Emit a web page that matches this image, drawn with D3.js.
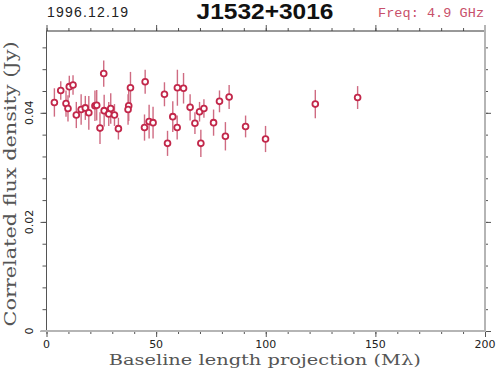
<!DOCTYPE html>
<html>
<head>
<meta charset="utf-8">
<script src="https://cdn.jsdelivr.net/npm/d3@7"></script>
<style>
  body { margin: 0; background: #fff; }
  svg { display: block; }
</style>
</head>
<body>
<div id="chart"></div>
<script>
// baseline projection (M lambda)
const baseline = [3.6, 6.5, 8.9, 9.8, 10.4, 12.1, 13.6, 15.8, 17.7, 19.3, 22.1, 22.9, 24.4, 26.1, 26.3,
  28.4, 29.3, 31.0, 32.8, 38.3, 37.5, 37.2, 45.0, 44.7, 46.8, 48.6, 53.8, 55.2, 57.6, 59.7, 59.6,
  62.5, 65.5, 67.7, 69.8, 71.8, 70.4, 76.2, 78.9, 81.6, 83.3, 90.8, 99.9, 122.6, 141.9];
// correlated flux density (Jy)
const flux = [0.0419, 0.0441, 0.0417, 0.0408, 0.0448, 0.0451, 0.0396, 0.0406, 0.0409, 0.0400, 0.0413,
  0.0414, 0.0372, 0.0472, 0.0404, 0.0398, 0.0408, 0.0396, 0.0371, 0.0446, 0.0413, 0.0406, 0.0457,
  0.0373, 0.0384, 0.0382, 0.0434, 0.0344, 0.0393, 0.0446, 0.0373, 0.0445, 0.0410, 0.0381, 0.0402,
  0.0408, 0.0344, 0.0382, 0.0421, 0.0357, 0.0429, 0.0375, 0.0352, 0.0416, 0.0428];
const fluxErr = [0.0026, 0.0017, 0.0024, 0.0024, 0.0020, 0.0018, 0.0024, 0.0028, 0.0022, 0.0031, 0.0028,
  0.0028, 0.0029, 0.0024, 0.0029, 0.0022, 0.0028, 0.0020, 0.0020, 0.0029, 0.0028, 0.0028, 0.0022,
  0.0024, 0.0031, 0.0029, 0.0022, 0.0023, 0.0028, 0.0033, 0.0022, 0.0028, 0.0024, 0.0020, 0.0018,
  0.0017, 0.0025, 0.0024, 0.0020, 0.0026, 0.0022, 0.0020, 0.0024, 0.0026, 0.0021];

const xMajor = [0, 50, 100, 150, 200];
const xMinor = d3.range(0, 201, 10);
const yMajor = [0, 0.02, 0.04];
const yMinor = d3.range(0, 0.0541, 0.004);

const dateLabel = '1996.12.19';
const sourceName = 'J1532+3016';
const freqLabel = 'Freq: 4.9 GHz';

const width = 497, height = 375;
const margin = { top: 31, right: 12, bottom: 44, left: 46.5 };
const w = width - margin.left - margin.right;
const h = height - margin.top - margin.bottom;

const svg = d3.select('#chart').append('svg')
  .attr('width', width)
  .attr('height', height);

const g = svg.append('g')
  .attr('transform', 'translate(' + margin.left + ',' + margin.top + ')');

const x = d3.scaleLinear().domain([0, 200]).range([0, w]);
const y = d3.scaleLinear().domain([0, 0.055]).range([h, 0]);

// ticks (pointing outward), minor then major
function tickAxis(axisFn, scale, vals, size, transform) {
  const a = g.append('g')
    .attr('transform', transform || null)
    .call(axisFn(scale).tickValues(vals).tickSize(size).tickFormat(''));
  a.select('.domain').remove();
  a.selectAll('line').attr('stroke', '#555');
  return a;
}
tickAxis(d3.axisBottom, x, xMinor, 3, 'translate(0,' + h + ')');
tickAxis(d3.axisBottom, x, xMajor, 6, 'translate(0,' + h + ')');
tickAxis(d3.axisTop, x, xMinor, 3);
tickAxis(d3.axisTop, x, xMajor, 6);
tickAxis(d3.axisLeft, y, yMinor, 4);
tickAxis(d3.axisLeft, y, yMajor, 6);
tickAxis(d3.axisRight, y, yMinor, 3, 'translate(' + w + ',0)');
tickAxis(d3.axisRight, y, yMajor, 6, 'translate(' + w + ',0)');

// frame
g.append('line').attr('x1', 0).attr('x2', w).attr('y1', 0).attr('y2', 0)
  .attr('stroke', '#333').attr('stroke-width', 1);
g.append('line').attr('x1', 0).attr('x2', 0).attr('y1', 0).attr('y2', h)
  .attr('stroke', '#555').attr('stroke-width', 1);
g.append('line').attr('x1', -6).attr('x2', w + 1).attr('y1', h).attr('y2', h)
  .attr('stroke', '#b5b5b5').attr('stroke-width', 2);
g.append('line').attr('x1', w).attr('x2', w).attr('y1', -6).attr('y2', h + 1)
  .attr('stroke', '#b5b5b5').attr('stroke-width', 2);

// tick labels
g.selectAll('.xlab').data(xMajor).enter().append('text')
  .attr('x', d => x(d))
  .attr('y', h + 16.5)
  .attr('text-anchor', 'middle')
  .style('font-family', 'DejaVu Sans')
  .style('font-size', '11px')
  .style('fill', '#222')
  .text(d => d);

g.selectAll('.ylab').data(yMajor).enter().append('text')
  .attr('transform', d => 'translate(-13.5,' + y(d) + ') rotate(-90)')
  .attr('text-anchor', 'middle')
  .style('font-family', 'DejaVu Sans')
  .style('font-size', '11px')
  .style('fill', '#222')
  .text(d => d === 0 ? '0' : d.toFixed(2));

// axis titles
svg.append('text')
  .attr('x', margin.left + x(100) - 1)
  .attr('y', 365)
  .attr('text-anchor', 'middle')
  .attr('textLength', 312)
  .attr('lengthAdjust', 'spacingAndGlyphs')
  .style('font-family', 'DejaVu Serif')
  .style('font-size', '15px')
  .style('fill', '#555')
  .text('Baseline length projection (M\u03bb)');

svg.append('text')
  .attr('transform', 'translate(16,184) rotate(-90)')
  .attr('text-anchor', 'middle')
  .attr('textLength', 285)
  .attr('lengthAdjust', 'spacingAndGlyphs')
  .style('font-family', 'DejaVu Serif')
  .style('font-size', '17px')
  .style('fill', '#555')
  .text('Correlated flux density (Jy)');

// header
svg.append('text')
  .attr('x', 47).attr('y', 17)
  .style('font-family', 'Liberation Sans')
  .style('font-size', '14px')
  .attr('textLength', 81)
  .style('fill', '#222')
  .text(dateLabel);

svg.append('text')
  .attr('x', 265).attr('y', 18.5)
  .attr('text-anchor', 'middle')
  .attr('textLength', 137)
  .attr('lengthAdjust', 'spacingAndGlyphs')
  .style('font-family', 'Liberation Sans')
  .style('font-weight', 'bold')
  .style('font-size', '22px')
  .style('fill', '#111')
  .text(sourceName);

svg.append('text')
  .attr('x', 484).attr('y', 16.5)
  .attr('text-anchor', 'end')
  .attr('textLength', 106)
  .style('font-family', 'Liberation Mono')
  .style('font-size', '13.5px')
  .style('fill', '#c8506a')
  .text(freqLabel);

// points
const pts = baseline.map((b, i) => ({ b: b, f: flux[i], e: fluxErr[i] }));

g.append('g').selectAll('line')
  .data(pts)
  .enter()
  .append('line')
  .attr('x1', d => x(d.b))
  .attr('x2', d => x(d.b))
  .attr('y1', d => y(d.f - d.e))
  .attr('y2', d => y(d.f + d.e))
  .attr('stroke', '#cf6b82')
  .attr('stroke-width', 1.4);

g.append('g').selectAll('circle')
  .data(pts)
  .enter()
  .append('circle')
  .attr('cx', d => x(d.b))
  .attr('cy', d => y(d.f))
  .attr('r', 2.9)
  .attr('fill', '#fff')
  .attr('stroke', '#c2274a')
  .attr('stroke-width', 1.8);
</script>
</body>
</html>
